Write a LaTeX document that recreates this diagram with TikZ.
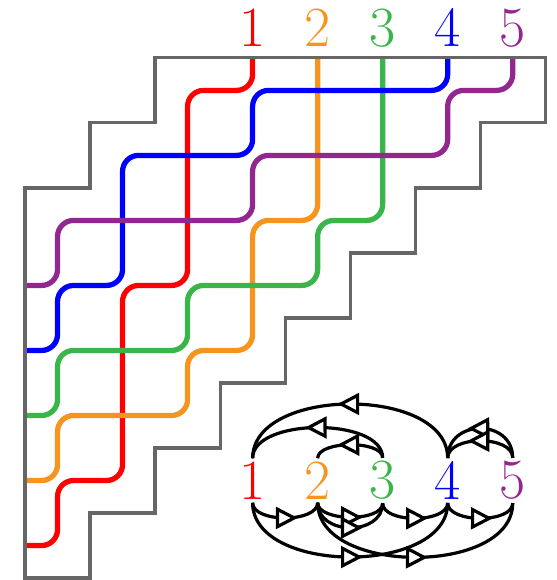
\documentclass[tikz,border=0pt]{standalone}
\usetikzlibrary{arrows.meta,decorations.markings}
\definecolor{pdorange}{RGB}{247,148,30}
\definecolor{pdgreen}{RGB}{57,181,74}
\definecolor{pdpurple}{RGB}{146,39,143}
\begin{document}
\begin{tikzpicture}[x={(0cm,-1cm)},y={(1cm,0cm)},
  every node/.style={inner sep=1.5pt, outer sep=0pt, font=\Huge},
  pipe/.style={line width=2.3pt, rounded corners=7pt},
  wall/.style={black!60, line width=1.4pt},
  arc/.style={line width=1.4pt, postaction={decorate},
    decoration={markings, mark=at position 0.5 with {\arrow[xshift=5.5pt]{Triangle[fill=white,length=9.5pt,width=9.5pt]}}}}]
\useasboundingbox (-0.89,-0.385) rectangle (8.03,8.17);
% pipes
\draw[pipe,red] (0,3.5) -- (0.5,3.5) -- (0.5,2.5) -- (3.5,2.5) -- (3.5,1.5) -- (6.5,1.5) -- (6.5,0.5) -- (7.5,0.5) -- (7.5,0);
\draw[pipe,pdorange] (0,4.5) -- (2.5,4.5) -- (2.5,3.5) -- (4.5,3.5) -- (4.5,2.5) -- (5.5,2.5) -- (5.5,0.5) -- (6.5,0.5) -- (6.5,0);
\draw[pipe,pdgreen] (0,5.5) -- (2.5,5.5) -- (2.5,4.5) -- (3.5,4.5) -- (3.5,2.5) -- (4.5,2.5) -- (4.5,0.5) -- (5.5,0.5) -- (5.5,0);
\draw[pipe,blue] (0,6.5) -- (0.5,6.5) -- (0.5,3.5) -- (1.5,3.5) -- (1.5,1.5) -- (3.5,1.5) -- (3.5,0.5) -- (4.5,0.5) -- (4.5,0);
\draw[pipe,pdpurple] (0,7.5) -- (0.5,7.5) -- (0.5,6.5) -- (1.5,6.5) -- (1.5,3.5) -- (2.5,3.5) -- (2.5,0.5) -- (3.5,0.5) -- (3.5,0);
% outline
\draw[wall] (8,0) -- (2,0) -- (2,1) -- (1,1) -- (1,2) -- (0,2) -- (0,8) -- (1,8) -- (1,7) -- (2,7) -- (2,6) -- (3,6) -- (3,5) -- (4,5) -- (4,4) -- (5,4) -- (5,3) -- (6,3) -- (6,2) -- (7,2) -- (7,1) -- (8,1) -- cycle;
% labels
\node[text=red] (t1) at (-0.46,3.5) {1};
\node[text=pdorange] (t2) at (-0.46,4.5) {2};
\node[text=pdgreen] (t3) at (-0.46,5.5) {3};
\node[text=blue] (t4) at (-0.46,6.5) {4};
\node[text=pdpurple] (t5) at (-0.46,7.5) {5};
% graph
\node[text=red] (v1) at (6.5,3.5) {1};
\node[text=pdorange] (v2) at (6.5,4.5) {2};
\node[text=pdgreen] (v3) at (6.5,5.5) {3};
\node[text=blue] (v4) at (6.5,6.5) {4};
\node[text=pdpurple] (v5) at (6.5,7.5) {5};
\draw[arc] (v4) to[out=90,in=90,looseness=0.95] (v1);
\draw[arc] (v3) to[out=90,in=90,looseness=0.8] (v1);
\draw[arc] (v3) to[out=90,in=90,looseness=0.7] (v2);
\draw[arc] (v5) to[out=90,in=90,looseness=1.55] (v4);
\draw[arc] (v5) to[out=90,in=90,looseness=0.9] (v4);
\draw[arc] (v1) to[out=-90,in=-90,looseness=0.8] (v2);
\draw[arc] (v2) to[out=-90,in=-90,looseness=0.75] (v3);
\draw[arc] (v2) to[out=-90,in=-90,looseness=1.3] (v3);
\draw[arc] (v3) to[out=-90,in=-90,looseness=0.8] (v4);
\draw[arc] (v4) to[out=-90,in=-90,looseness=0.8] (v5);
\draw[arc] (v1) to[out=-90,in=-90,looseness=0.95] (v4);
\draw[arc] (v2) to[out=-90,in=-90,looseness=0.95] (v5);
\end{tikzpicture}
\end{document}
